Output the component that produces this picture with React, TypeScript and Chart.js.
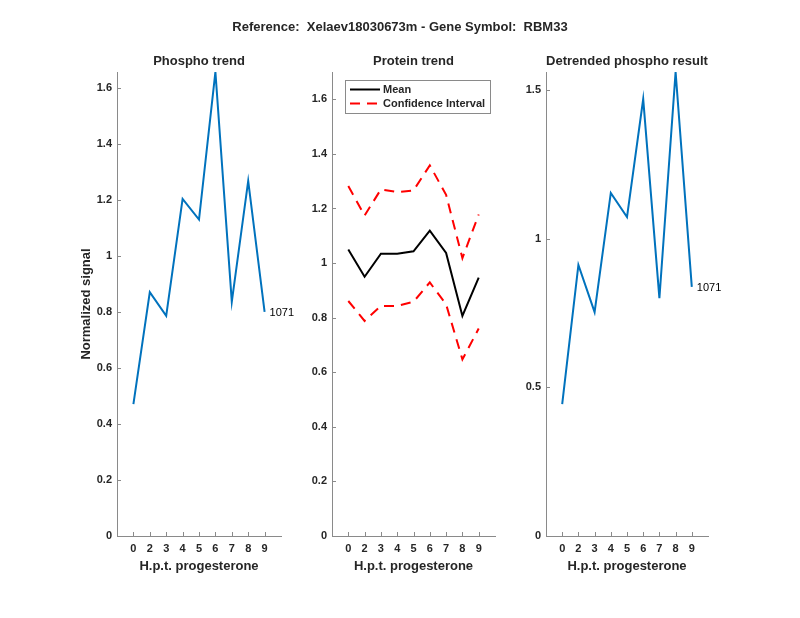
import { useEffect, useRef } from "react";
import { Chart, registerables } from "chart.js";

Chart.register(...registerables);

// ---------------- data ----------------
const hours = ["0", "2", "3", "4", "5", "6", "7", "8", "9"];
const xIndex = [1, 2, 3, 4, 5, 6, 7, 8, 9];

const phospho = [0.471, 0.871, 0.786, 1.204, 1.13, 1.657, 0.836, 1.268, 0.8];

const proteinMean = [1.05, 0.95, 1.034, 1.034, 1.043, 1.119, 1.037, 0.806, 0.947];
const proteinUpper = [1.282, 1.174, 1.27, 1.26, 1.266, 1.358, 1.25, 1.018, 1.178];
const proteinLower = [0.861, 0.788, 0.843, 0.843, 0.858, 0.929, 0.849, 0.647, 0.76];

const detrended = [0.444, 0.912, 0.753, 1.154, 1.073, 1.47, 0.8, 1.561, 0.838];

const pointLabel = "1071";
const legendLabels = ["Mean", "Confidence Interval"];
const mainTitle = "Reference:  Xelaev18030673m - Gene Symbol:  RBM33";
const panelTitles = ["Phospho trend", "Protein trend", "Detrended phospho result"];
const xTitle = "H.p.t. progesterone";
const yTitle = "Normalized signal";

// ---------------- styles ----------------
const FONT = "'Liberation Sans', Arial, Helvetica, sans-serif";
const TEXT = "#262626";
const AXIS = "#8a8a8a";
const BLUE = "#0072BD";
const W = 800;
const H = 618;
const AREA_TOP = 72;
const AREA_BOTTOM = 536;
const Y_AXIS_W = 40;
const X_AXIS_H = 30;
const DASH = [10, 7];

const toXY = (ys: number[]) => ys.map((y, i) => ({ x: xIndex[i], y }));
const fmt = (v: number) => String(+Number(v).toFixed(2));

const decorPlugin = {
  id: "decor",
  afterDraw(chart: any, _args: any, opts: any) {
    const ctx: CanvasRenderingContext2D = chart.ctx;
    const { left, right, top, bottom } = chart.chartArea;
    const xs = chart.scales.x;
    const ys = chart.scales.y;
    ctx.save();
    // inward tick marks
    ctx.strokeStyle = AXIS;
    ctx.lineWidth = 1;
    ctx.beginPath();
    xs.ticks.forEach((t: any) => {
      const px = Math.round(xs.getPixelForValue(t.value)) + 0.5;
      ctx.moveTo(px, bottom);
      ctx.lineTo(px, bottom - 4);
    });
    ys.ticks.forEach((t: any) => {
      const py = Math.round(ys.getPixelForValue(t.value)) + 0.5;
      ctx.moveTo(left, py);
      ctx.lineTo(left + 4, py);
    });
    ctx.stroke();

    ctx.fillStyle = TEXT;
    ctx.textAlign = "center";
    ctx.textBaseline = "middle";
    ctx.font = `bold 13px ${FONT}`;
    const cx = (left + right) / 2;
    if (opts.title) ctx.fillText(opts.title, cx, 61);
    if (opts.xTitle) ctx.fillText(opts.xTitle, cx, 566);
    if (opts.mainTitle) ctx.fillText(opts.mainTitle, W / 2, 27);
    if (opts.yTitle) {
      ctx.save();
      ctx.translate(86, (top + bottom) / 2);
      ctx.rotate(-Math.PI / 2);
      ctx.fillText(opts.yTitle, 0, 0);
      ctx.restore();
    }
    if (opts.endLabel) {
      const ds = chart.data.datasets[0].data;
      const last = ds[ds.length - 1];
      ctx.font = `11px ${FONT}`;
      ctx.textAlign = "left";
      ctx.fillStyle = "#000";
      ctx.fillText(opts.endLabel, xs.getPixelForValue(last.x) + 5, ys.getPixelForValue(last.y) + 1);
    }
    if (opts.legend) {
      const bx = left + 13;
      const by = top + 8;
      const bw = 145;
      const bh = 33;
      ctx.fillStyle = "#fff";
      ctx.fillRect(bx, by, bw, bh);
      ctx.strokeStyle = AXIS;
      ctx.lineWidth = 1;
      ctx.strokeRect(bx + 0.5, by + 0.5, bw, bh);
      const items = [chart.data.datasets[0], chart.data.datasets[1]];
      items.forEach((d: any, i: number) => {
        const ly = by + 9.5 + i * 14;
        ctx.strokeStyle = d.borderColor;
        ctx.lineWidth = d.borderWidth;
        ctx.setLineDash(d.borderDash || []);
        ctx.beginPath();
        ctx.moveTo(bx + 5, ly);
        ctx.lineTo(bx + 35, ly);
        ctx.stroke();
        ctx.setLineDash([]);
        ctx.fillStyle = TEXT;
        ctx.font = `bold 11px ${FONT}`;
        ctx.textAlign = "left";
        ctx.fillText(legendLabels[i], bx + 38, ly + 0.5);
      });
    }
    ctx.restore();
  },
};

function makeConfig(
  areaLeft: number,
  areaRight: number,
  yMax: number,
  yStep: number,
  datasets: any[],
  decor: any
): any {
  return {
    type: "line",
    data: { datasets },
    plugins: [decorPlugin],
    options: {
      animation: false,
      responsive: false,
      events: [],
      layout: {
        padding: {
          left: areaLeft - Y_AXIS_W,
          right: W - areaRight,
          top: AREA_TOP,
          bottom: H - AREA_BOTTOM - X_AXIS_H,
        },
      },
      plugins: {
        legend: { display: false },
        tooltip: { enabled: false },
        title: { display: false },
        decor,
      },
      scales: {
        x: {
          type: "linear",
          min: 0,
          max: 10,
          grid: { display: false, drawTicks: false },
          border: { display: true, color: AXIS, width: 1 },
          afterBuildTicks: (s: any) => {
            s.ticks = xIndex.map((v) => ({ value: v }));
          },
          afterFit: (s: any) => {
            s.height = X_AXIS_H;
          },
          ticks: {
            autoSkip: false,
            maxRotation: 0,
            padding: 6,
            color: TEXT,
            font: { family: FONT, size: 11, weight: "bold" },
            callback: (v: number) => {
              const i = xIndex.indexOf(v);
              return i >= 0 ? hours[i] : "";
            },
          },
        },
        y: {
          type: "linear",
          min: 0,
          max: yMax,
          grid: { display: false, drawTicks: false },
          border: { display: true, color: AXIS, width: 1 },
          afterFit: (s: any) => {
            s.width = Y_AXIS_W;
          },
          ticks: {
            stepSize: yStep,
            includeBounds: false,
            padding: 5,
            color: TEXT,
            font: { family: FONT, size: 11, weight: "bold" },
            callback: (v: number) => fmt(v),
          },
        },
      },
    },
  };
}

function ChartCanvas({ config }: { config: any }) {
  const ref = useRef<HTMLCanvasElement | null>(null);
  useEffect(() => {
    if (!ref.current) return;
    const chart = new Chart(ref.current, config);
    return () => chart.destroy();
  }, [config]);
  return (
    <canvas
      ref={ref}
      width={W}
      height={H}
      style={{ position: "absolute", left: 0, top: 0, width: W, height: H, pointerEvents: "none" }}
    />
  );
}

const lineBase = { pointRadius: 0, fill: false, tension: 0 };

const configs = [
  makeConfig(
    117,
    281,
    Math.max(...phospho),
    0.2,
    [{ ...lineBase, data: toXY(phospho), borderColor: BLUE, borderWidth: 2 }],
    { title: panelTitles[0], xTitle, yTitle, endLabel: pointLabel }
  ),
  makeConfig(
    332,
    495,
    1.7,
    0.2,
    [
      { ...lineBase, data: toXY(proteinMean), borderColor: "#000000", borderWidth: 2 },
      { ...lineBase, data: toXY(proteinUpper), borderColor: "#ff0000", borderWidth: 2, borderDash: DASH },
      { ...lineBase, data: toXY(proteinLower), borderColor: "#ff0000", borderWidth: 2, borderDash: DASH },
    ],
    { title: panelTitles[1], xTitle, mainTitle, legend: true }
  ),
  makeConfig(
    546,
    708,
    Math.max(...detrended),
    0.5,
    [{ ...lineBase, data: toXY(detrended), borderColor: BLUE, borderWidth: 2 }],
    { title: panelTitles[2], xTitle, endLabel: pointLabel }
  ),
];

export default function App() {
  return (
    <div style={{ position: "absolute", left: 0, top: 0, width: W, height: H, background: "#fff" }}>
      {configs.map((c, i) => (
        <ChartCanvas key={i} config={c} />
      ))}
    </div>
  );
}
